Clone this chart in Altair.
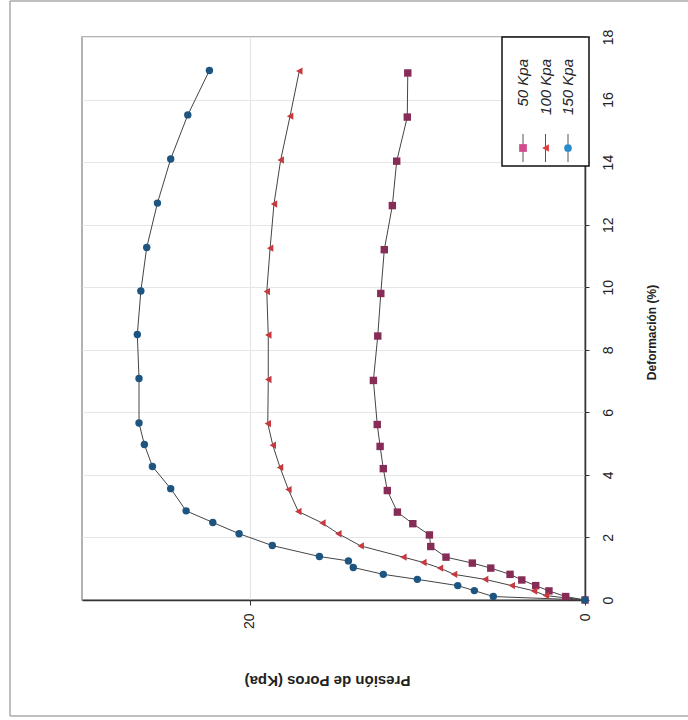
import altair as alt
import pandas as pd

# ---- data ----
series_names = ["50 Kpa", "100 Kpa", "150 Kpa"]

def_50 = [0, 0.11, 0.29, 0.46, 0.64, 0.82, 1.02, 1.18, 1.37, 1.71, 2.08, 2.44, 2.81, 3.50, 4.20, 4.91, 5.61, 7.02, 8.44, 9.80, 11.20, 12.61, 14.03, 15.44, 16.85]
pre_50 = [0, 1.15, 2.15, 2.94, 3.77, 4.47, 5.62, 6.72, 8.29, 9.20, 9.28, 10.27, 11.19, 11.79, 12.03, 12.22, 12.39, 12.62, 12.36, 12.18, 11.97, 11.49, 11.23, 10.60, 10.57]

def_100 = [0, 0.14, 0.29, 0.46, 0.66, 0.82, 1.02, 1.20, 1.37, 1.73, 2.12, 2.46, 2.83, 3.53, 4.24, 4.95, 5.64, 7.05, 8.47, 9.86, 11.25, 12.66, 14.07, 15.47, 16.91]
pre_100 = [0, 2.33, 3.04, 4.37, 5.96, 7.81, 8.65, 9.64, 10.83, 13.38, 14.71, 15.66, 17.10, 17.69, 18.19, 18.62, 18.92, 18.89, 18.89, 18.98, 18.78, 18.55, 18.15, 17.59, 17.04]

def_150 = [0, 0.11, 0.30, 0.46, 0.66, 0.82, 1.04, 1.25, 1.39, 1.74, 2.12, 2.48, 2.85, 3.56, 4.27, 4.97, 5.66, 7.08, 8.49, 9.88, 11.27, 12.69, 14.10, 15.51, 16.93]
pre_150 = [0, 5.47, 6.60, 7.59, 10.00, 12.03, 13.82, 14.11, 15.84, 18.65, 20.63, 22.20, 23.79, 24.71, 25.80, 26.28, 26.60, 26.60, 26.70, 26.49, 26.14, 25.50, 24.71, 23.69, 22.40]

rows = []
for name, ds, ps in [(series_names[0], def_50, pre_50),
                     (series_names[1], def_100, pre_100),
                     (series_names[2], def_150, pre_150)]:
    for d, p in zip(ds, ps):
        rows.append({"serie": name, "def": d, "pre": p})
df = pd.DataFrame(rows)

FONT = "Liberation Sans"
W, H = 503, 563

shape_scale = alt.Scale(domain=series_names, range=["square", "triangle-left", "circle"])
color_scale = alt.Scale(domain=series_names, range=["#862c57", "#c8383f", "#1d5580"])
legend_colors = ["#d04c8c", "#e03c3c", "#2a8cc8"]
legend_shapes = ["square", "triangle-left", "circle"]

x_enc = alt.X(
    "pre:Q",
    scale=alt.Scale(domain=[0, 30], reverse=True, nice=False, zero=False),
    axis=alt.Axis(
        values=[0, 20], title="Presión de Poros  (Kpa)",
        labelAngle=270, labelAlign="right", labelBaseline="middle",
        labelFont=FONT, labelFontSize=14, labelColor="#222", labelPadding=8,
        tickSize=5, tickColor="#333", domainColor="#333", domainWidth=1.5,
        grid=True, gridColor="#e2e2e2",
        titleAngle=180, titleAlign="center", titleBaseline="middle",
        titleX=245, titleY=80, titleFont=FONT, titleFontSize=15,
        titleFontWeight="bold", titleColor="#222",
    ),
)
y_enc = alt.Y(
    "def:Q",
    scale=alt.Scale(domain=[0, 18], nice=False),
    axis=alt.Axis(
        orient="right", values=list(range(0, 19, 2)), title="Deformación (%)",
        labelAngle=270, labelAlign="center", labelBaseline="top",
        labelFont=FONT, labelFontSize=14, labelColor="#222", labelPadding=12,
        tickSize=4, tickColor="#333", domainColor="#333", domainWidth=1.5,
        grid=True, gridColor="#e6e6e6",
        titleAngle=270, titleAlign="center", titleBaseline="middle",
        titleX=66, titleY=295, titleFont=FONT, titleFontSize=12,
        titleFontWeight="bold", titleColor="#222",
    ),
)

base = alt.Chart(df)
lines = base.mark_line(color="#444", strokeWidth=1).encode(
    x=x_enc, y=y_enc, detail="serie:N", order="def:Q"
)
points = base.mark_point(filled=True, opacity=1, size=55).encode(
    x="pre:Q", y="def:Q",
    shape=alt.Shape("serie:N", scale=shape_scale, legend=None),
    color=alt.Color("serie:N", scale=color_scale, legend=None),
)

one = pd.DataFrame({"k": [0]})
frame_left = alt.Chart(one).mark_rule(color="#aaa", strokeWidth=1.5).encode(
    x=alt.value(-72), y=alt.value(-36), y2=alt.value(679))
frame_top = alt.Chart(one).mark_rule(color="#aaa", strokeWidth=1.5).encode(
    x=alt.value(-72), x2=alt.value(610), y=alt.value(-36))
frame_bottom = alt.Chart(one).mark_rule(color="#aaa", strokeWidth=1.5).encode(
    x=alt.value(-72), x2=alt.value(610), y=alt.value(679))

legend_box = alt.Chart(one).mark_rect(fill="white", stroke="#111", strokeWidth=1.5).encode(
    x=alt.value(420), x2=alt.value(507), y=alt.value(0), y2=alt.value(129))

legend_layers = [legend_box]
for i, name in enumerate(series_names):
    lx = 441 + i * 22.5
    legend_layers.append(alt.Chart(one).mark_rule(color="#555", strokeWidth=1).encode(
        x=alt.value(lx), y=alt.value(97), y2=alt.value(125)))
    legend_layers.append(alt.Chart(one).mark_point(
        filled=True, opacity=1, size=60, shape=legend_shapes[i], color=legend_colors[i]
    ).encode(x=alt.value(lx), y=alt.value(111)))
    legend_layers.append(alt.Chart(one).mark_text(
        text=name, angle=270, align="right", baseline="middle",
        font=FONT, fontSize=15, fontStyle="italic", color="#222"
    ).encode(x=alt.value(lx), y=alt.value(22)))

chart = alt.layer(
    frame_left, frame_top, frame_bottom, lines, points, *legend_layers
).properties(
    width=W, height=H,
    padding={"left": 82, "top": 37, "right": 103, "bottom": 120},
    autosize=alt.AutoSizeParams(type="none"),
    background="white",
).configure_view(stroke="#9a9a9a", strokeWidth=1.5)

chart.save("out.html", embed_options={"renderer": "svg", "actions": False})
